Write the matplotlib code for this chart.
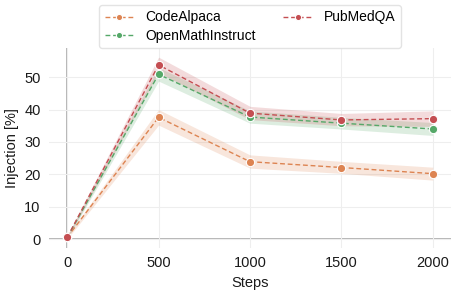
import numpy as np
import matplotlib.pyplot as plt

plt.rcParams['font.family'] = ['Liberation Sans', 'DejaVu Sans']

steps = [0, 500, 1000, 1500, 2000]

code_alpaca = [0.5, 37.6, 23.9, 22.1, 20.2]
code_lo     = [0.0, 35.2, 21.9, 20.3, 18.2]
code_hi     = [1.0, 40.0, 26.0, 24.0, 22.2]

openmath    = [0.5, 50.9, 37.7, 35.8, 34.0]
openmath_lo = [0.0, 48.8, 35.8, 34.0, 32.0]
openmath_hi = [1.0, 53.0, 39.6, 37.6, 36.0]

pubmed      = [0.5, 53.8, 38.9, 36.8, 37.2]
pubmed_lo   = [0.0, 51.4, 36.9, 35.0, 34.8]
pubmed_hi   = [1.0, 56.2, 41.0, 38.8, 39.6]

series = [
    ("CodeAlpaca", code_alpaca, code_lo, code_hi, "#dd8452"),
    ("OpenMathInstruct", openmath, openmath_lo, openmath_hi, "#55a868"),
    ("PubMedQA", pubmed, pubmed_lo, pubmed_hi, "#c44e52"),
]

fig = plt.figure(figsize=(4.57, 2.95), dpi=100)
ax = fig.add_axes([0.107, 0.159, 0.880, 0.678])

for name, vals, lo, hi, col in series:
    ax.fill_between(steps, lo, hi, color=col, alpha=0.2, linewidth=0)
    ax.plot(steps, vals, color=col, linestyle="--", dashes=(3.5, 2), linewidth=1.0,
            marker="o", markersize=6, markeredgecolor="white", markeredgewidth=0.8,
            label=name)

ax.axhline(0, color="#a0a0a0", linewidth=1.1, zorder=0.5)
ax.axvline(0, color="#a0a0a0", linewidth=1.1, zorder=0.5)
ax.grid(color="#eeeeee", linewidth=0.8)
ax.set_axisbelow(True)
for s in ax.spines.values():
    s.set_visible(False)

ax.set_xlim(-100, 2100)
ax.set_ylim(-2.8, 59)
ax.set_xticks(steps)
ax.set_yticks([0, 10, 20, 30, 40, 50])
ax.tick_params(length=0, labelsize=10.5, colors="#1a1a1a", pad=6)
ax.set_xlabel("Steps", fontsize=10.5, color="#1a1a1a")
ax.set_ylabel("Injection [%]", fontsize=10.5, color="#1a1a1a")

ax.legend(loc="lower center", bbox_to_anchor=(0.5, 1.0), ncol=2, fontsize=10,
          frameon=True, edgecolor="#dddddd", columnspacing=2.0, handlelength=2.1,
          borderpad=0.4, labelspacing=0.3, borderaxespad=0.0, markerscale=0.75)

fig.savefig("out.png", dpi=100)
